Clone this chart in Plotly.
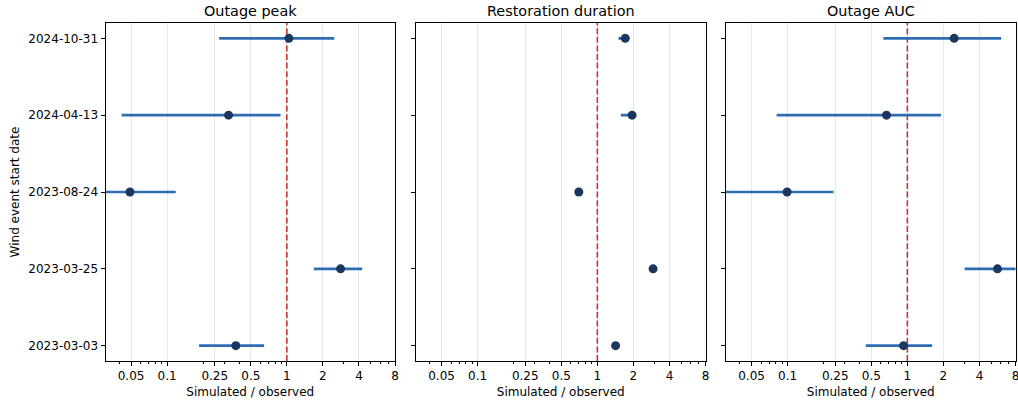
import math
import plotly.graph_objects as go

# ---- data (bottom to top) ----
dates = ["2023-03-03", "2023-03-25", "2023-08-24", "2024-04-13", "2024-10-31"]

panel_titles = ["Outage peak", "Restoration duration", "Outage AUC"]

peak_mid = [0.375, 2.81, 0.049, 0.326, 1.04]
peak_lo = [0.185, 1.68, 0.02, 0.0417, 0.272]
peak_hi = [0.646, 4.26, 0.118, 0.886, 2.49]

dur_mid = [1.42, 2.92, 0.70, 1.95, 1.71]
dur_lo = [1.41, 2.70, 0.695, 1.57, 1.50]
dur_hi = [1.44, 3.14, 0.705, 2.09, 1.84]

auc_mid = [0.93, 5.66, 0.099, 0.67, 2.46]
auc_lo = [0.45, 3.01, 0.02, 0.081, 0.63]
auc_hi = [1.61, 10.0, 0.242, 1.91, 6.07]

tick_vals = [0.05, 0.1, 0.25, 0.5, 1, 2, 4, 8]
tick_text = ["0.05", "0.1", "0.25", "0.5", "1", "2", "4", "8"]
minor_vals = [m * 10 ** k for k in (-2, -1, 0) for m in range(2, 10)]

series = [(peak_mid, peak_lo, peak_hi), (dur_mid, dur_lo, dur_hi), (auc_mid, auc_lo, auc_hi)]

W, H = 1018, 401
domains_px = [(105.5, 395), (416, 705.5), (726, 1015.5)]
top_px, bot_px = 23, 361

ERR = "#2f6db3"
MRK = "#1b365f"
RED = "#cc3333"
FONT = "DejaVu Sans"

fig = go.Figure()
layout = dict(
    width=W, height=H, margin=dict(l=0, r=0, t=0, b=0, autoexpand=False),
    paper_bgcolor="white", plot_bgcolor="white", showlegend=False,
    font=dict(family=FONT, size=12, color="black"),
)

ydom = [1 - bot_px / H, 1 - top_px / H]
xr = [math.log10(0.0306), math.log10(8)]
ypos = list(range(len(dates)))

annotations = []
for i, ((mid, lo, hi), title) in enumerate(zip(series, panel_titles)):
    sfx = "" if i == 0 else str(i + 1)
    xa, ya = "x" + sfx, "y" + sfx
    # reference line at 1
    fig.add_trace(go.Scatter(x=[1, 1], y=[-0.2, 4.2], mode="lines", xaxis=xa, yaxis=ya,
                             line=dict(color=RED, width=1.6, dash="6px,2.6px"), hoverinfo="skip"))
    # error lines
    ex, ey = [], []
    for j in range(len(dates)):
        ex += [lo[j], hi[j], None]
        ey += [ypos[j], ypos[j], None]
    fig.add_trace(go.Scatter(x=ex, y=ey, mode="lines", xaxis=xa, yaxis=ya,
                             line=dict(color=ERR, width=2.7), hoverinfo="skip"))
    fig.add_trace(go.Scatter(x=mid, y=ypos, mode="markers", xaxis=xa, yaxis=ya,
                             marker=dict(color=MRK, size=9, line=dict(width=0))))
    d0, d1 = domains_px[i]
    xdom = [d0 / W, d1 / W]
    layout["xaxis" + sfx] = dict(
        type="log", range=xr, domain=xdom, anchor=ya, automargin=False,
        ticklabeloverflow="allow",
        tickmode="array", tickvals=tick_vals, ticktext=tick_text,
        ticks="outside", ticklen=4, tickwidth=1, tickcolor="black",
        showline=True, mirror=True, linecolor="black", linewidth=1,
        showgrid=True, gridcolor="#e8e8e8", gridwidth=1, zeroline=False,
        tickfont=dict(size=12, family=FONT),
        minor=dict(tickmode="array", tickvals=minor_vals, ticks="outside", ticklen=2,
                   tickwidth=0.8, tickcolor="black", showgrid=False),
        title=dict(text="Simulated / observed", font=dict(size=12, family=FONT), standoff=5),
    )
    layout["yaxis" + sfx] = dict(
        range=[-0.2, 4.2], domain=ydom, anchor=xa, automargin=False,
        ticklabeloverflow="allow",
        tickmode="array", tickvals=ypos, ticktext=dates, showticklabels=(i == 0),
        ticks="outside", ticklen=4, tickwidth=1, tickcolor="black",
        showline=True, mirror=True, linecolor="black", linewidth=1,
        showgrid=False, zeroline=False, tickfont=dict(size=12, family=FONT),
    )
    if i == 0:
        layout["yaxis"]["title"] = dict(text="Wind event start date", font=dict(size=12, family=FONT), standoff=6)
    annotations.append(dict(text=title, x=(d0 + d1) / 2 / W, y=1 - 11 / H, xref="paper", yref="paper",
                            showarrow=False, xanchor="center", yanchor="middle",
                            font=dict(size=14.4, family=FONT, color="black")))

layout["annotations"] = annotations
fig.update_layout(**layout)
fig.write_html("out.html")
